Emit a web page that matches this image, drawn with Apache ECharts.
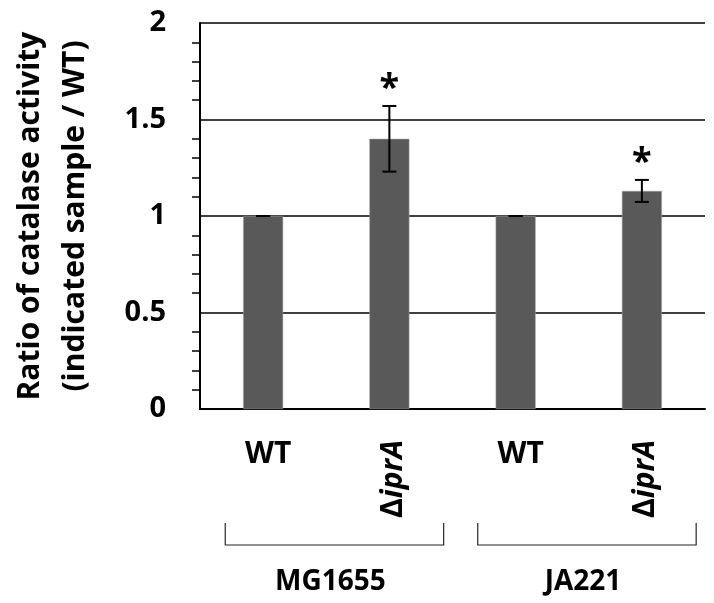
<!DOCTYPE html>
<html>
<head>
<meta charset="utf-8">
<script src="https://cdn.jsdelivr.net/npm/echarts@6/dist/echarts.min.js"></script>
<style>
  html, body { margin: 0; padding: 0; background: #fff; }
  #chart { width: 714px; height: 603px; }
</style>
</head>
<body>
<div id="chart"></div>
<script>
// 数据
var categories = ['WT', 'ΔiprA', 'WT', 'ΔiprA'];
var ratio = [1, 1.40, 1, 1.13];               // 柱高
var errs = [0, 0.17, 0, 0.057];               // 误差
var sig = ['', '*', '', '*'];                 // 显著性星号
var groups = ['MG1655', 'JA221'];
var groupMembers = [[0, 1], [2, 3]];
var yTicks = [0, 0.5, 1, 1.5, 2];

var FONT = 'Open Sans';
var myChart = echarts.init(document.getElementById('chart'));

var errData = ratio.map(function (v, i) {
  return [i, v - errs[i], v + errs[i]];
});

function isMutant(v) { return v.charAt(0) === 'Δ'; }

// 量字宽
var ctx = document.createElement('canvas').getContext('2d');
function textWidth(t, font) { ctx.font = font; return ctx.measureText(t).width; }
var upFont = 'bold 30px "' + FONT + '"';
var itFont = 'italic bold 30px "' + FONT + '"';

var option = {
  backgroundColor: '#fff',
  animation: false,
  grid: { left: 200, right: 9, top: 23, bottom: 194 },
  xAxis: {
    type: 'category',
    data: categories,
    axisLine: { lineStyle: { color: '#000', width: 2 } },
    axisTick: { show: false },
    axisLabel: {
      margin: 30,
      padding: [0, 0, 0, 10],
      fontFamily: FONT, fontWeight: 'bold', fontSize: 30, color: '#000',
      formatter: function (v) { return isMutant(v) ? '' : v; }
    }
  },
  yAxis: {
    type: 'value',
    min: yTicks[0],
    max: yTicks[yTicks.length - 1],
    interval: 0.5,
    name: 'Ratio of catalase activity\n(indicated sample / WT)',
    nameLocation: 'middle',
    nameGap: 102,
    nameTextStyle: {
      fontFamily: FONT, fontWeight: 'bold', fontSize: 30, color: '#000', lineHeight: 45
    },
    axisLine: { show: true, lineStyle: { color: '#000', width: 2 } },
    axisTick: { show: false },
    minorTick: { show: true, splitNumber: 5, length: 8, lineStyle: { color: '#000', width: 1.5 } },
    axisLabel: {
      fontFamily: FONT, fontWeight: 'bold', fontSize: 29, color: '#000', margin: 34,
      formatter: function (v) { return String(v); }
    },
    splitLine: { show: true, lineStyle: { color: '#000', width: 1.5 } }
  },
  series: [
    {
      type: 'bar',
      data: ratio,
      barWidth: 40,
      itemStyle: { color: '#595959', borderColor: '#a6a6a6', borderWidth: 0.5 }
    },
    {
      // 误差线 + 星号
      type: 'custom',
      data: errData,
      z: 5,
      renderItem: function (params, api) {
        var i = api.value(0);
        var lo = api.coord([i, api.value(1)]);
        var hi = api.coord([i, api.value(2)]);
        var cw = 7;
        var style = { stroke: '#000', lineWidth: 2 };
        var kids = [
          { type: 'line', shape: { x1: hi[0], y1: hi[1], x2: lo[0], y2: lo[1] }, style: style },
          { type: 'line', shape: { x1: hi[0] - cw, y1: hi[1], x2: hi[0] + cw, y2: hi[1] }, style: style },
          { type: 'line', shape: { x1: lo[0] - cw, y1: lo[1], x2: lo[0] + cw, y2: lo[1] }, style: style }
        ];
        var s = sig[params.dataIndex];
        if (s) {
          kids.push({
            type: 'text',
            style: {
              text: s, x: hi[0], y: hi[1] + 1,
              align: 'center', verticalAlign: 'bottom',
              font: 'bold 36px ' + FONT, fill: '#000'
            }
          });
        }
        return { type: 'group', children: kids };
      }
    },
    {
      // 竖排 ΔiprA：Δ 与斜体 iprA 分开画，各自旋转 90°
      type: 'custom',
      clip: false,
      silent: true,
      data: categories.map(function (c, i) { return [i, 0]; }),
      renderItem: function (params, api) {
        var c = categories[params.dataIndex];
        if (!isMutant(c)) return null;
        var p = api.coord([api.value(0), 0]);
        var head = c.charAt(0), rest = c.slice(1);
        var w1 = textWidth(head, upFont);
        var w2 = textWidth(rest, itFont);
        var x = p[0] + 4;
        var yBottom = p[1] + 31 + w1 + w2;   // 文字底端
        return {
          type: 'group',
          children: [
            {
              type: 'text', x: x, y: yBottom, rotation: Math.PI / 2,
              style: { text: head, font: upFont, fill: '#000', align: 'left', verticalAlign: 'middle' }
            },
            {
              type: 'text', x: x, y: yBottom - w1, rotation: Math.PI / 2,
              style: { text: rest, font: itFont, fill: '#000', align: 'left', verticalAlign: 'middle' }
            }
          ]
        };
      }
    },
    {
      // 分组括号与菌株名
      type: 'custom',
      clip: false,
      silent: true,
      data: groupMembers.map(function (m) { return [m[0], m[m.length - 1]]; }),
      renderItem: function (params, api) {
        var a = api.coord([api.value(0), 0]);
        var b = api.coord([api.value(1), 0]);
        var step = api.size([1, 0])[0];
        var x1 = a[0] - 0.3 * step;
        var x2 = b[0] + 0.43 * step;
        var y0 = a[1];
        return {
          type: 'group',
          children: [
            {
              type: 'polyline',
              shape: { points: [[x1, y0 + 114], [x1, y0 + 136], [x2, y0 + 136], [x2, y0 + 114]] },
              style: { stroke: '#262626', lineWidth: 1.2, fill: null }
            },
            {
              type: 'text',
              style: {
                text: groups[params.dataIndex], x: (x1 + x2) / 2 - 4, y: y0 + 173,
                align: 'center', verticalAlign: 'middle',
                font: 'bold 28px ' + FONT, fill: '#000'
              }
            }
          ]
        };
      }
    }
  ]
};
myChart.setOption(option);
</script>
</body>
</html>
